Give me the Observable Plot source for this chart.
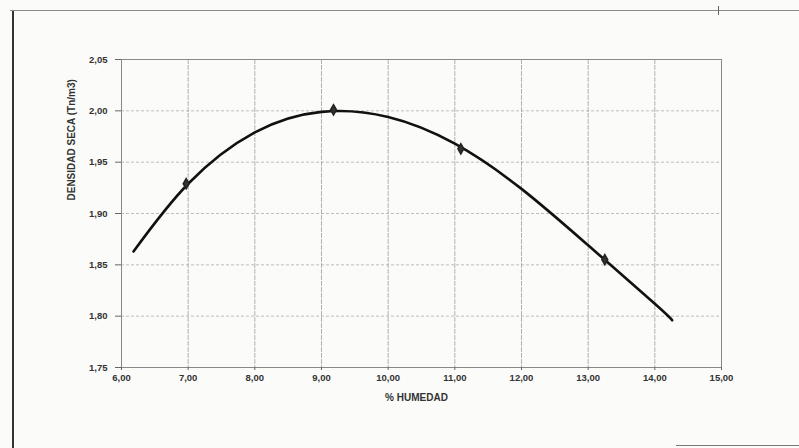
<!DOCTYPE html>
<html>
<head>
<meta charset="utf-8">
<script src="https://cdn.jsdelivr.net/npm/d3@7"></script>
<script src="https://cdn.jsdelivr.net/npm/@observablehq/plot@0.6"></script>
<style>
  html, body { margin: 0; padding: 0; background: #fbfbf9; }
  #wrap { position: relative; width: 799px; height: 448px; overflow: hidden; font-family: "Liberation Sans", Arial, sans-serif; }
  #chart { position: absolute; left: 0; top: 0; }
  .ln { position: absolute; background: #444; }
</style>
</head>
<body>
<div id="wrap">
  <div class="ln" style="left:12px; top:10px; width:2px; height:438px; background:#333;"></div>
  <div class="ln" style="left:10px; top:10px; width:789px; height:1px; background:#8a8a8a;"></div>
  <div class="ln" style="left:718px; top:6px; width:1px; height:9px; background:#666;"></div>
  <div class="ln" style="left:676px; top:445px; width:123px; height:1px; background:#777;"></div>
  <div id="chart"></div>
</div>
<script>
// Measured points (% humedad, densidad seca)
const pointX = [6.97, 9.18, 11.09, 13.25];
const pointY = [1.929, 2.001, 1.963, 1.855];

// Fitted curve
const curveX = [6.18, 7.0, 8.0, 9.0, 10.0, 11.0, 12.0, 13.0, 14.0, 14.26];
const curveY = [1.863, 1.929, 1.979, 1.999, 1.994, 1.968, 1.924, 1.869, 1.812, 1.796];

const xTicks = [6, 7, 8, 9, 10, 11, 12, 13, 14, 15];
const yTicks = [1.75, 1.80, 1.85, 1.90, 1.95, 2.00, 2.05];

const xLabel = "% HUMEDAD";
const yLabel = "DENSIDAD SECA (Tn/m3)";

const points = pointX.map((x, i) => ({x, y: pointY[i]}));
const curve = curveX.map((x, i) => ({x, y: curveY[i]}));

const fmt = d => d3.format(".2f")(d).replace(".", ",");

const chart = Plot.plot({
  width: 799,
  height: 448,
  marginLeft: 121,
  marginRight: 78,
  marginTop: 59,
  marginBottom: 81,
  style: { background: "transparent", fontFamily: "'Liberation Sans', Arial, sans-serif", fontSize: "9.5px", fontWeight: "bold", color: "#333" },
  x: { domain: [6, 15] },
  y: { domain: [1.75, 2.05] },
  marks: [
    Plot.gridY(yTicks, { stroke: "#aaa", strokeOpacity: 0.75, strokeDasharray: "3,2" }),
    Plot.gridX(xTicks, { stroke: "#999", strokeOpacity: 0.75, strokeDasharray: "5,1" }),
    Plot.frame({ stroke: "#888" }),
    Plot.axisY(yTicks, { tickFormat: fmt, tickSize: 6, tickPadding: 8, label: null, stroke: "#666" }),
    Plot.axisX(xTicks, { tickFormat: fmt, tickSize: 3, tickPadding: 4, label: null, stroke: "#666" }),
    Plot.line(curve, { x: "x", y: "y", curve: "natural", stroke: "#111", strokeWidth: 2.6 }),
    Plot.dot(points, { x: "x", y: "y", symbol: "diamond", r: 3.1, fill: "#333", stroke: "#222" }),
    Plot.text([xLabel], { frameAnchor: "bottom", dy: 33, dx: -5, fontSize: 10, fontWeight: "bold", fill: "#333" }),
    Plot.text([yLabel], { frameAnchor: "left", dx: -50, dy: -13, rotate: -90, fontSize: 10, fontWeight: "bold", fill: "#333" })
  ]
});
document.getElementById("chart").appendChild(chart);
</script>
</body>
</html>
